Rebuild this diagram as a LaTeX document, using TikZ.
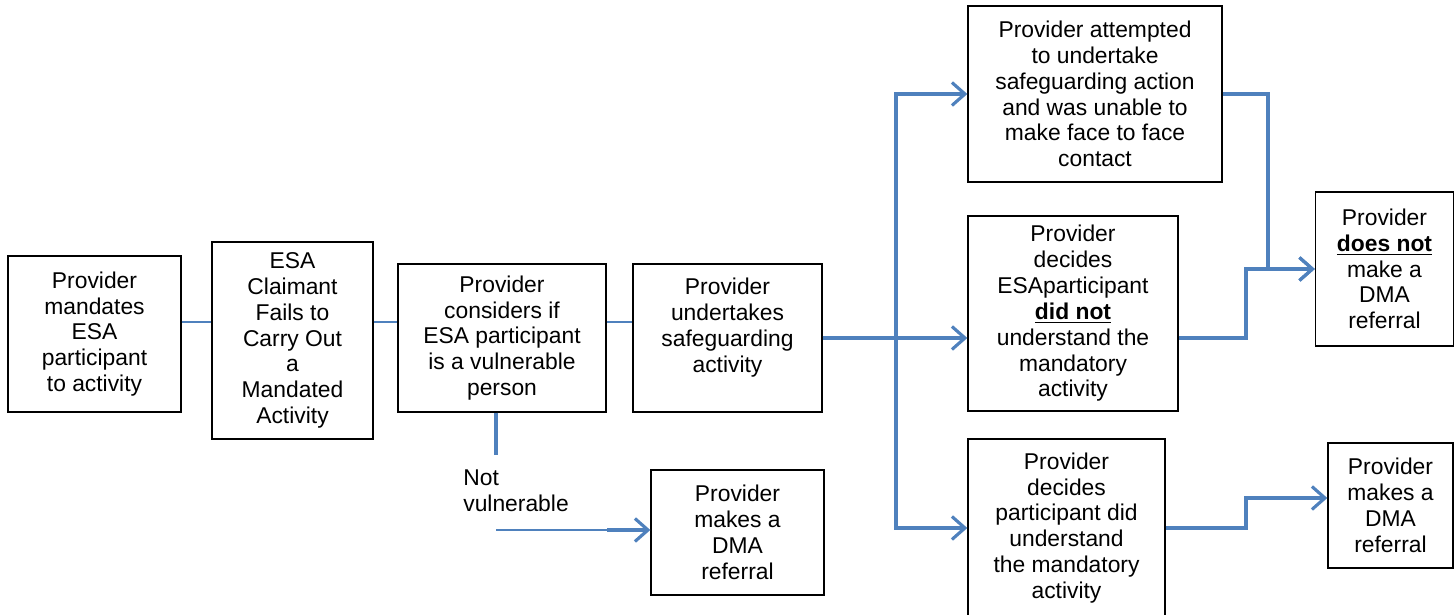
\documentclass[tikz,border=0pt]{standalone}
\usepackage{fontspec}
\setmainfont{Liberation Sans}
\usetikzlibrary{arrows.meta}
\definecolor{flowblue}{HTML}{4F81BD}

\begin{document}
\begin{tikzpicture}[x=0.02cm, y=-0.02cm,
		box/.style={draw, line width=0.8pt, align=center, inner sep=2pt, font=\fontsize{13pt}{14.7pt}\selectfont},
		note/.style={align=left, inner sep=0pt, font=\fontsize{13pt}{14.7pt}\selectfont},
		flow/.style={draw=flowblue, line width=1.8pt},
		link/.style={draw=flowblue, line width=0.7pt},
		>={Straight Barb[length=2.6mm, width=4.6mm]}]
		\useasboundingbox (0,0) rectangle (1454,615);
		
		\node [box, minimum width=3.46cm, minimum height=3.12cm] (mand) at (94.5,334) {Provider\\mandates\\ESA\\participant\\to activity};
		\node [box, minimum width=3.22cm, minimum height=3.94cm] (claim) at (292.5,340.5) {ESA\\Claimant\\Fails to\\Carry Out\\a\\Mandated\\Activity};
		\node [box, minimum width=4.16cm, minimum height=2.96cm] (consid) at (502,338) {Provider\\considers if\\ESA participant\\is a vulnerable\\person};
		\node [box, minimum width=3.78cm, minimum height=2.96cm] (under) at (727.5,338) {Provider\\undertakes\\safeguarding\\activity\\ \mbox{}};
		\node [box, minimum width=3.46cm, minimum height=2.50cm] (dmaA) at (737.5,532.5) {Provider\\makes a\\DMA\\referral};
		\node [box, minimum width=5.08cm, minimum height=3.52cm] (attempt) at (1095,94) {Provider attempted\\to undertake\\safeguarding action\\and was unable to\\make face to face\\contact};
		\node [box, minimum width=4.20cm, minimum height=3.90cm] (notund) at (1073,313.5) {Provider\\decides\\ESAparticipant\\\underline{\textbf{did not}}\\understand the\\mandatory\\activity};
		\node [box, minimum width=3.94cm, minimum height=3.56cm] (did) at (1066.5,528) {Provider\\decides\\participant did\\understand\\the mandatory\\activity};
		\node [box, minimum width=2.76cm, minimum height=3.08cm] (doesnot) at (1384.5,269) {Provider\\\underline{\textbf{does not}}\\make a\\DMA\\referral};
		\node [box, minimum width=2.50cm, minimum height=2.50cm] (makes) at (1390.5,505.5) {Provider\\makes a\\DMA\\referral};
		\node [note, anchor=west] (notvul) at (463,491) {Not\\vulnerable};
		
		% thin links along the top row
		\coordinate (row) at (0,322);
		\draw[link]
		(mand.east |- row) -- (claim.west |- row);
		\draw[link]
		(claim.east |- row) -- (consid.west |- row);
		\draw[link]
		(consid.east |- row) -- (under.west |- row);
		
		% safeguarding outcomes
		\coordinate (split) at (896,338);
		\draw[flow]
		(under.east) -- (split);
		\draw[flow,->]
		(split) -- (notund.west |- split);
		\draw[flow,->]
		(split) |- (attempt.west);
		\draw[flow,->]
		(split) |- (did.west);
		
		\coordinate (jtop) at (1268,269);
		\coordinate (jmid) at (1246,269);
		\coordinate (jlow) at (1246,498);
		\draw[flow,->]
		(attempt.east) -| (jtop) -- (doesnot.west);
		\draw[flow,->]
		(notund.east |- split) -| (jmid) -- (doesnot.west);
		\draw[flow,->]
		(did.east) -| (jlow) -- (makes.west |- jlow);
		
		% not vulnerable
		\coordinate (nvdrop) at (496,455);
		\coordinate (nvstart) at (496,530);
		\coordinate (nvbend) at (607,530);
		\draw[flow]
		(consid.south -| nvdrop) -- (nvdrop);
		\draw[link]
		(nvstart) -- (nvbend);
		\draw[flow,->]
		(nvbend) -- (dmaA.west |- nvbend);
		
		\end{tikzpicture}
\end{document}
